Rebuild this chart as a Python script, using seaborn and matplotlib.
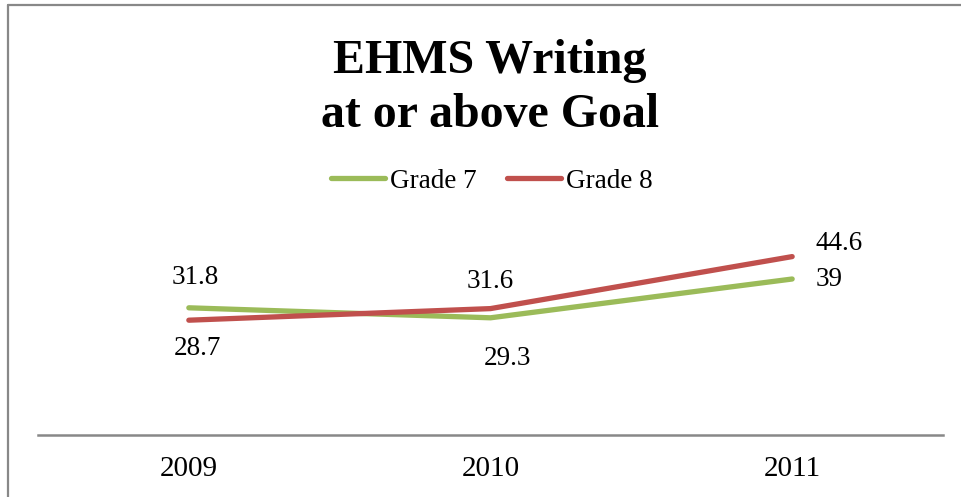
import matplotlib
matplotlib.use("Agg")
import matplotlib.pyplot as plt
from matplotlib.lines import Line2D
import seaborn as sns
import pandas as pd

# ---- data ----
years = ["2009", "2010", "2011"]
grade7 = [31.8, 29.3, 39]
grade8 = [28.7, 31.6, 44.6]
series_names = ["Grade 7", "Grade 8"]
title_lines = ["EHMS Writing", "at or above Goal"]

df = pd.DataFrame({
    "Year": years * 2,
    "Value": grade7 + grade8,
    "Series": [series_names[0]] * len(years) + [series_names[1]] * len(years),
})

sns.set_style("white")
plt.rcParams["font.family"] = ["Liberation Serif", "DejaVu Serif"]
plt.rcParams["text.color"] = "black"
plt.rcParams["xtick.color"] = "black"
plt.rcParams["xtick.labelcolor"] = "black"

W, H = 961, 497
fig = plt.figure(figsize=(W / 100, H / 100), dpi=100)
ax = fig.add_axes([38 / W, (H - 435) / H, (943 - 38) / W, 200 / H])

palette = {"Grade 7": "#9BBB59", "Grade 8": "#C0504D"}
sns.lineplot(data=df, x="Year", y="Value", hue="Series", palette=palette,
             linewidth=3.8, ax=ax, legend=False, sort=False)
for ln in ax.lines:
    ln.set_solid_capstyle("round")
    ln.set_solid_joinstyle("round")

ax.set_xlim(-0.5, 2.5)
ax.set_ylim(0, 50)
ax.set_xlabel("")
ax.set_ylabel("")
ax.set_yticks([])
for s in ["top", "right", "left"]:
    ax.spines[s].set_visible(False)
ax.spines["bottom"].set_color("#888888")
ax.spines["bottom"].set_linewidth(1.8)
ax.tick_params(axis="x", length=0, pad=15, labelsize=21, labelcolor="black")
ax.patch.set_alpha(0)

# data labels (offsets in pixels)
offsets7 = [(6, 30, "center"), (17, -41, "center"), (23, -1, "left")]
offsets8 = [(9, -28, "center"), (0, 27, "center"), (23, 13, "left")]
for vals, offs in ((grade7, offsets7), (grade8, offsets8)):
    for i, (v, (dx, dy, ha)) in enumerate(zip(vals, offs)):
        ax.annotate(f"{v:g}", xy=(i, v), xytext=(dx, dy), textcoords="offset pixels",
                    ha=ha, va="center", fontsize=19.5, color="black")

# legend
handles = [Line2D([0], [0], color=palette[n], lw=3.8, solid_capstyle="round") for n in series_names]
leg = fig.legend(handles, series_names, loc="center", bbox_to_anchor=(492 / W, 1 - 181 / H),
                 ncol=2, frameon=False, fontsize=19.5, handlelength=2.0, handletextpad=0.2,
                 columnspacing=1.1)
for t in leg.get_texts():
    t.set_color("black")

# title
fig.text(490 / W, 1 - 73 / H, title_lines[0], ha="center", va="baseline",
         fontsize=34.5, fontweight="bold", color="black")
fig.text(490 / W, 1 - 127 / H, title_lines[1], ha="center", va="baseline",
         fontsize=34.5, fontweight="bold", color="black")

# outer border (left and top)
fig.add_artist(Line2D([8 / W, 8 / W], [0, 1 - 5 / H], transform=fig.transFigure,
                      color="#888888", lw=1.6))
fig.add_artist(Line2D([8 / W, 1], [1 - 5 / H, 1 - 5 / H], transform=fig.transFigure,
                      color="#888888", lw=1.6))

fig.savefig("out.png", dpi=100)
